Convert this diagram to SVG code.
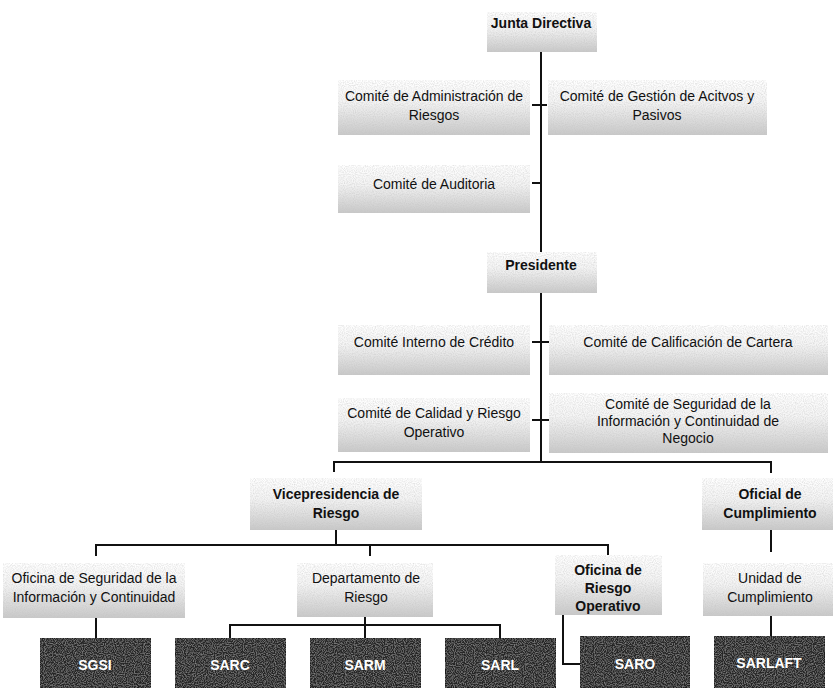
<svg xmlns="http://www.w3.org/2000/svg" width="833" height="698" viewBox="0 0 833 698">
<defs>
<linearGradient id="g" x1="0" y1="0" x2="0" y2="1">
<stop offset="0" stop-color="#ffffff"/>
<stop offset="0.4" stop-color="#f4f4f4"/>
<stop offset="1" stop-color="#c8c8c8"/>
</linearGradient>
<filter id="n" x="0" y="0" width="1" height="1">
<feTurbulence type="fractalNoise" baseFrequency="0.9" numOctaves="1" seed="3" result="t"/>
<feColorMatrix in="t" type="matrix" values="0 0 0 0 0.55  0 0 0 0 0.55  0 0 0 0 0.55  0 0 0 -1.2 0.75" result="m"/>
<feComposite in="m" in2="SourceGraphic" operator="in" result="c"/>
<feMerge><feMergeNode in="SourceGraphic"/><feMergeNode in="c"/></feMerge>
</filter>
<filter id="nd" x="0" y="0" width="1" height="1">
<feTurbulence type="fractalNoise" baseFrequency="0.9" numOctaves="1" seed="5" result="t"/>
<feColorMatrix in="t" type="matrix" values="0 0 0 0 0.45  0 0 0 0 0.45  0 0 0 0 0.45  0 0 0 -1.2 0.7" result="m"/>
<feComposite in="m" in2="SourceGraphic" operator="in" result="c"/>
<feMerge><feMergeNode in="SourceGraphic"/><feMergeNode in="c"/></feMerge>
</filter>
</defs>
<style>
.b{fill:url(#g);filter:url(#n)}
.d{fill:#262626;stroke:#111;stroke-width:1;filter:url(#nd)}
.t{font-family:"Liberation Sans",Arial,sans-serif;font-size:14px;fill:#111;text-anchor:middle}
.tb{font-family:"Liberation Sans",Arial,sans-serif;font-size:14px;font-weight:bold;fill:#111;text-anchor:middle}
.tw{font-family:"Liberation Sans",Arial,sans-serif;font-size:14px;font-weight:bold;fill:#fff;text-anchor:middle}
.c{fill:none;stroke:#111;stroke-width:2}
</style>
<rect width="833" height="698" fill="#fff"/>
<g id="connectors">
<path class="c" d="M541 52 V255"/>
<path class="c" d="M532 105 H547"/>
<path class="c" d="M532 183 H541"/>
<path class="c" d="M541 293 V462"/>
<path class="c" d="M532 342 H552"/>
<path class="c" d="M532 420 H552"/>
<path class="c" d="M334 472 V462 H771 V473"/>
<path class="c" d="M336 530 V545"/>
<path class="c" d="M96 556 V545 H608 V556"/>
<path class="c" d="M370 545 V556"/>
<path class="c" d="M96 617 V638"/>
<path class="c" d="M365 617 V625"/>
<path class="c" d="M230 638 V625 H500 V638"/>
<path class="c" d="M365 625 V638"/>
<path class="c" d="M563 613 V664 H580"/>
<path class="c" d="M771 530 V552"/>
<path class="c" d="M771 615 V638"/>
</g>
<g id="junta"><rect class="b" x="487" y="12" width="110" height="40"/><text class="tb" x="541" y="28">Junta Directiva</text></g>
<g id="c-adm"><rect class="b" x="338" y="80" width="192" height="55"/><text class="t" x="434" y="101">Comité de Administración de</text><text class="t" x="434" y="120">Riesgos</text></g>
<g id="c-gest"><rect class="b" x="548" y="80" width="219" height="55"/><text class="t" x="657" y="101">Comité de Gestión de Acitvos y</text><text class="t" x="657" y="120">Pasivos</text></g>
<g id="c-aud"><rect class="b" x="338" y="165" width="192" height="48"/><text class="t" x="434" y="189">Comité de Auditoria</text></g>
<g id="presidente"><rect class="b" x="487" y="252" width="110" height="41"/><text class="tb" x="541" y="270">Presidente</text></g>
<g id="c-int"><rect class="b" x="338" y="325" width="192" height="50"/><text class="t" x="434" y="347">Comité Interno de Crédito</text></g>
<g id="c-cal"><rect class="b" x="549" y="325" width="279" height="50"/><text class="t" x="688" y="347">Comité de Calificación de Cartera</text></g>
<g id="c-calidad"><rect class="b" x="338" y="398" width="192" height="54"/><text class="t" x="434" y="418">Comité de Calidad y Riesgo</text><text class="t" x="434" y="437">Operativo</text></g>
<g id="c-seg"><rect class="b" x="549" y="393" width="279" height="60"/><text class="t" x="688" y="409">Comité de Seguridad de la</text><text class="t" x="688" y="426">Información y Continuidad de</text><text class="t" x="688" y="443">Negocio</text></g>
<g id="vicepresidencia"><rect class="b" x="250" y="478" width="172" height="52"/><text class="tb" x="336" y="499">Vicepresidencia de</text><text class="tb" x="336" y="518">Riesgo</text></g>
<g id="oficial"><rect class="b" x="702" y="478" width="131" height="52"/><text class="tb" x="770" y="499">Oficial de</text><text class="tb" x="770" y="518">Cumplimiento</text></g>
<g id="of-seg"><rect class="b" x="3" y="563" width="182" height="55"/><text class="t" x="94" y="583">Oficina de Seguridad de la</text><text class="t" x="94" y="602">Información y Continuidad</text></g>
<g id="depto"><rect class="b" x="297" y="563" width="136" height="54"/><text class="t" x="366" y="583">Departamento de</text><text class="t" x="366" y="602">Riesgo</text></g>
<g id="of-ro"><rect class="b" x="555" y="555" width="107" height="60"/><text class="tb" x="608" y="575">Oficina de</text><text class="tb" x="608" y="593">Riesgo</text><text class="tb" x="608" y="611">Operativo</text></g>
<g id="unidad"><rect class="b" x="703" y="563" width="130" height="53"/><text class="t" x="770" y="583">Unidad de</text><text class="t" x="770" y="602">Cumplimiento</text></g>
<g id="sgsi"><rect class="d" x="40" y="638" width="111" height="50"/><text class="tw" x="95" y="670">SGSI</text></g>
<g id="sarc"><rect class="d" x="175" y="638" width="111" height="50"/><text class="tw" x="230" y="670">SARC</text></g>
<g id="sarm"><rect class="d" x="310" y="638" width="111" height="50"/><text class="tw" x="365" y="670">SARM</text></g>
<g id="sarl"><rect class="d" x="445" y="638" width="111" height="50"/><text class="tw" x="500" y="670">SARL</text></g>
<g id="saro"><rect class="d" x="580" y="636" width="110" height="52"/><text class="tw" x="635" y="669">SARO</text></g>
<g id="sarlaft"><rect class="d" x="714" y="636" width="111" height="52"/><text class="tw" x="769" y="668">SARLAFT</text></g>
</svg>
